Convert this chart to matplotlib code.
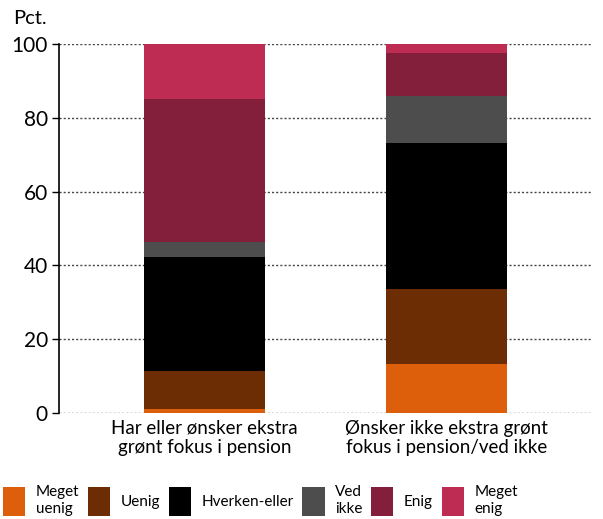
import numpy as np
import matplotlib.pyplot as plt

plt.rcParams['font.family'] = ['Lato', 'DejaVu Sans']

# Data
groups = ['Har eller ønsker ekstra\ngrønt fokus i pension',
          'Ønsker ikke ekstra grønt\nfokus i pension/ved ikke']
categories = ['Meget\nuenig', 'Uenig', 'Hverken-eller', 'Ved\nikke', 'Enig', 'Meget\nenig']
meget_uenig = [1.2, 13.3]
uenig = [10.2, 20.3]
hverken = [30.9, 39.6]
ved_ikke = [4.0, 12.7]
enig = [38.8, 11.7]
meget_enig = [14.9, 2.4]
colors = ['#DD5F0B', '#6C2D05', '#000000', '#4D4D4D', '#831F3A', '#BE2C53']

series = [meget_uenig, uenig, hverken, ved_ikke, enig, meget_enig]

fig = plt.figure(figsize=(6.03, 5.19), dpi=100)
ax = fig.add_axes([59/603, 1-413/519, (592-59)/603, (413-44)/519])

x = np.arange(len(groups))
bottom = np.zeros(len(groups))
for vals, lab, col in zip(series, categories, colors):
    ax.bar(x, vals, width=0.5, bottom=bottom, color=col, label=lab, zorder=3)
    bottom += np.array(vals)

ax.set_xlim(-0.6, 1.6)
ax.set_ylim(0, 100)
ax.set_yticks([0, 20, 40, 60, 80, 100])
ax.set_xticks(x)
ax.set_xticklabels(groups, fontsize=13.5, linespacing=1.15)
ax.tick_params(axis='x', length=0, pad=5)
ax.tick_params(axis='y', labelsize=15, length=5, width=1, pad=3)
ax.yaxis.grid(True, color='#444444', linestyle=(0, (1.5, 1.5)), linewidth=1)
ax.set_axisbelow(True)
for s in ['top', 'right', 'bottom']:
    ax.spines[s].set_visible(False)
ax.spines['left'].set_linewidth(1.2)

fig.text(13/603, 1-19/519, 'Pct.', fontsize=14.5, va='center', ha='left')

leg = fig.legend(loc='upper left', bbox_to_anchor=(0.005, 1-485/519), ncol=6,
                 frameon=False, fontsize=11, handlelength=1.45, handleheight=2.6,
                 handletextpad=0.7, columnspacing=0.56, borderpad=0, borderaxespad=0,
                 labelspacing=0)
for t in leg.get_texts():
    t.set_linespacing(1.3)

fig.savefig('out.png', dpi=100)
